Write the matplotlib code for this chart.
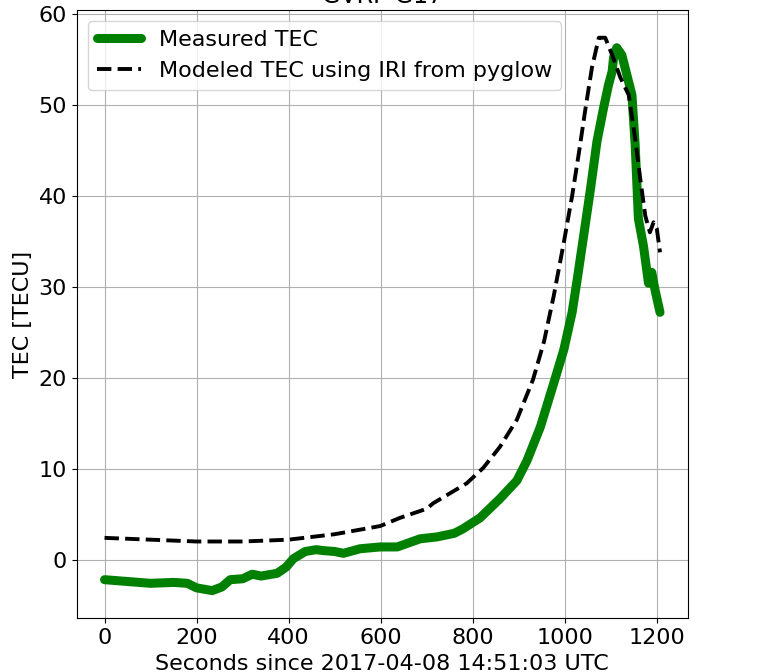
import numpy as np
import matplotlib
matplotlib.use("Agg")
import matplotlib.pyplot as plt

# ---------------------------------------------------------
# Data
# ---------------------------------------------------------
t_meas = [0, 50, 100, 150, 180, 200, 234, 255, 273, 300, 321, 340, 375,
          395, 410, 436, 460, 475, 500, 519, 555, 599, 636, 686, 722, 760,
          779, 816, 859, 896, 918, 947, 976, 998, 1016, 1027, 1041, 1056,
          1070, 1084, 1095, 1103, 1106, 1113, 1124, 1135, 1146, 1153, 1160,
          1171, 1182, 1189, 1196, 1207]
tec_meas = [-2.2, -2.4, -2.6, -2.5, -2.6, -3.1, -3.4, -3.0, -2.2, -2.1,
            -1.6, -1.8, -1.5, -0.8, 0.1, 0.9, 1.1, 1.0, 0.9, 0.7, 1.2, 1.4,
            1.4, 2.3, 2.5, 2.9, 3.4, 4.6, 6.7, 8.7, 10.9, 14.6, 19.4, 23.1,
            27.2, 30.8, 35.6, 40.8, 46.0, 49.6, 52.2, 53.7, 55.2, 56.3, 55.5,
            53.3, 51.1, 45.6, 37.5, 34.5, 30.4, 31.6, 29.7, 27.2]

t_model = [0, 100, 200, 300, 400, 500, 599, 642, 700, 714, 787, 823, 859,
           896, 931, 955, 976, 998, 1016, 1030, 1045, 1059, 1074, 1088, 1103,
           1121, 1139, 1153, 1164, 1175, 1185, 1193, 1200, 1207]
tec_model = [2.4, 2.2, 2.0, 2.0, 2.2, 2.8, 3.7, 4.6, 5.6, 6.2, 8.4, 10.1,
             12.4, 15.4, 19.8, 24.0, 29.0, 34.9, 40.0, 44.5, 49.6, 54.1,
             57.4, 57.4, 55.5, 53.0, 51.1, 46.3, 41.9, 37.8, 36.0, 37.1,
             36.4, 33.8]

# ---------------------------------------------------------
# Plot
# ---------------------------------------------------------
plt.rcParams["font.size"] = 16
fig = plt.figure(figsize=(7.6, 6.72), dpi=100)
ax = fig.add_axes([0.101, 0.080, 0.804, 0.905])

ax.plot(t_meas, tec_meas, color="green", linewidth=6.5,
        solid_joinstyle="round", solid_capstyle="round", label="Measured TEC")
ax.plot(t_model, tec_model, "k--", linewidth=2.8,
        label="Modeled TEC using IRI from pyglow")

ax.set_xlabel("Seconds since 2017-04-08 14:51:03 UTC")
ax.set_ylabel("TEC [TECU]")
# title sits mostly above the canvas, as in the original export
ax.set_title("GVRP G17", pad=5, fontsize=17)
ax.grid(True)
ax.legend(loc="upper left")

fig.savefig("out.png", dpi=100)
